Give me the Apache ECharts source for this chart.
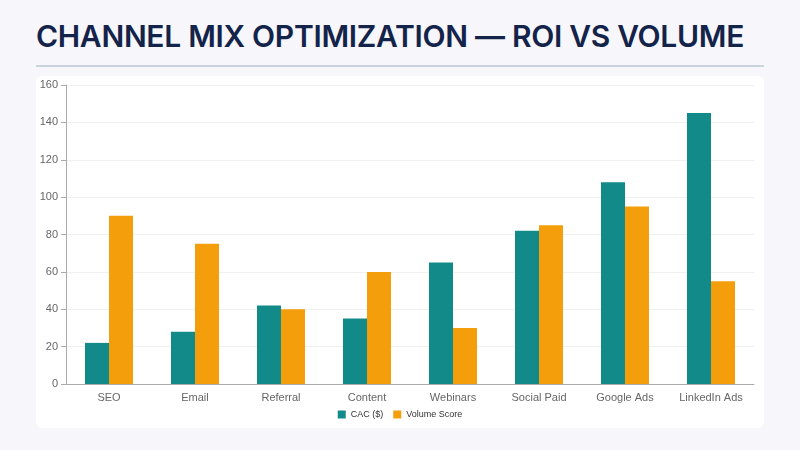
<!DOCTYPE html>
<html><head><meta charset="utf-8">
<script src="https://cdn.jsdelivr.net/npm/echarts@6/dist/echarts.min.js"></script>
<style>
body{margin:0;width:800px;height:450px;background:#f7f7fb;position:relative;overflow:hidden;font-family:Inter,'Noto Sans',sans-serif}
#title{position:absolute;left:36px;top:18px;font-size:30px;font-weight:600;color:#13234a;letter-spacing:-0.3px}
#rule{position:absolute;left:36px;top:65px;width:728px;height:2px;background:#c9d3dd}
#panel{position:absolute;left:36px;top:76px;width:728px;height:352px;background:#fff;border-radius:6px}
#chart{width:728px;height:352px}
</style></head><body>
<div id="title">CHANNEL MIX OPTIMIZATION — ROI VS VOLUME</div>
<div id="rule"></div>
<div id="panel"><div id="chart"></div></div>
<script>
var categories = ['SEO', 'Email', 'Referral', 'Content', 'Webinars', 'Social Paid', 'Google Ads', 'LinkedIn Ads'];
var cac = [22, 28, 42, 35, 65, 82, 108, 145];
var volume = [90, 75, 40, 60, 30, 85, 95, 55];

var chart = echarts.init(document.getElementById('chart'));
chart.setOption({
    animation: false,
    color: ['#138a8a', '#f59e0b'],
    grid: { left: 30, right: 10, top: 9, bottom: 44 },
    legend: {
        bottom: 4, itemWidth: 8, itemHeight: 8, itemGap: 10,
        icon: 'rect',
        textStyle: { fontSize: 9, color: '#333' }
    },
    xAxis: {
        type: 'category', data: categories,
        axisLine: { lineStyle: { color: '#aaa' } },
        axisTick: { lineStyle: { color: '#aaa' } },
        axisLabel: { color: '#666', fontSize: 11 }
    },
    yAxis: {
        type: 'value', min: 0, max: 160, interval: 20,
        axisLine: { show: true, lineStyle: { color: '#aaa' } },
        axisTick: { show: true, lineStyle: { color: '#aaa' } },
        axisLabel: { color: '#666', fontSize: 11 },
        splitLine: { lineStyle: { color: '#f0f0f0' } }
    },
    series: [
        { name: 'CAC ($)', type: 'bar', data: cac, barWidth: 24, barGap: '0%' },
        { name: 'Volume Score', type: 'bar', data: volume, barWidth: 24 }
    ]
});
</script>
</body></html>
